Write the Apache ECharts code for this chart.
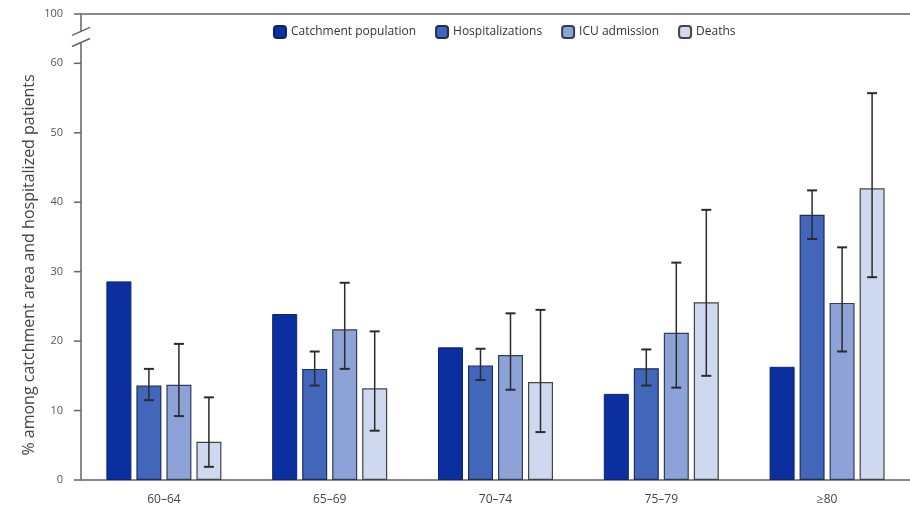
<!DOCTYPE html>
<html>
<head>
<meta charset="utf-8">
<script src="https://cdn.jsdelivr.net/npm/echarts@6/dist/echarts.min.js"></script>
<style>
  html, body { margin: 0; padding: 0; background: #fff; }
  #chart { width: 910px; height: 509px; }
</style>
</head>
<body>
<div id="chart"></div>
<script>
// age groups
const categories = ['60–64', '65–69', '70–74', '75–79', '≥80']

// % values
const catchment = [28.6, 23.9, 19.1, 12.4, 16.3]
const hospitalizations = [13.6, 16.0, 16.5, 16.1, 38.2]
const hospLow = [11.5, 13.6, 14.4, 13.6, 34.7]
const hospHigh = [16.0, 18.5, 18.9, 18.8, 41.7]
const icu = [13.7, 21.7, 18.0, 21.2, 25.5]
const icuLow = [9.2, 16.0, 13.0, 13.3, 18.5]
const icuHigh = [19.6, 28.4, 24.0, 31.3, 33.5]
const deaths = [5.5, 13.2, 14.1, 25.6, 42.0]
const deathsLow = [1.9, 7.1, 6.9, 15.0, 29.2]
const deathsHigh = [11.9, 21.4, 24.5, 38.9, 55.7]

const yTicks = [0, 10, 20, 30, 40, 50, 60, 100]

const BAR_W = 25
const BAR_GAP = 5
const FONT = '"Open Sans", "Noto Sans", sans-serif'

// x offset of bar i (0..3) from the category centre
function barOffset(i) {
  const total = 4 * BAR_W + 3 * BAR_GAP
  return -total / 2 + BAR_W / 2 + i * (BAR_W + BAR_GAP)
}

function errorSeries(idx, low, high) {
  return {
    type: 'custom',
    xAxisIndex: 0,
    yAxisIndex: 0,
    z: 5,
    silent: true,
    data: categories.map((c, i) => [i, low[i], high[i]]),
    renderItem: function(params, api) {
      const lo = api.coord([api.value(0), api.value(1)])
      const hi = api.coord([api.value(0), api.value(2)])
      const x = lo[0] + barOffset(idx)
      const half = 5
      const style = { stroke: '#2b2b2b', lineWidth: 1.5 }
      return {
        type: 'group',
        children: [
          { type: 'line', shape: { x1: x, y1: lo[1], x2: x, y2: hi[1] }, style },
          { type: 'line', shape: { x1: x - half, y1: hi[1], x2: x + half, y2: hi[1] }, style: { stroke: '#2b2b2b', lineWidth: 2 } },
          { type: 'line', shape: { x1: x - half, y1: lo[1], x2: x + half, y2: lo[1] }, style: { stroke: '#2b2b2b', lineWidth: 2 } }
        ]
      }
    }
  }
}

const chart = echarts.init(document.getElementById('chart'))

chart.setOption({
  animation: false,
  textStyle: { fontFamily: FONT },
  legend: {
    left: 268,
    top: 20,
    itemWidth: 12,
    itemHeight: 12,
    itemGap: 19,
    z: 200,
    textStyle: { fontSize: 12, color: '#333', fontFamily: FONT },
    data: ['Catchment population', 'Hospitalizations', 'ICU admission', 'Deaths']
  },
  grid: {
    left: 81,
    right: -8,
    top: 14,
    bottom: 29
  },
  xAxis: [{
    type: 'category',
    data: categories,
    axisLine: { lineStyle: { color: '#8a8a8a', width: 2 } },
    axisTick: { show: false },
    axisLabel: { color: '#444', fontSize: 12, margin: 14, fontFamily: FONT }
  }, {
    type: 'category',
    data: categories,
    position: 'top',
    axisLine: { lineStyle: { color: '#8a8a8a', width: 2 } },
    axisTick: { show: false },
    axisLabel: { show: false }
  }],
  yAxis: {
    type: 'value',
    min: 0,
    max: 100,
    interval: 10,
    breaks: [{ start: 63, end: 97.5, gap: 1.6 }],
    breakArea: { show: false },
    axisLine: { show: true, lineStyle: { color: '#8a8a8a', width: 2 } },
    axisTick: { show: false },
    axisLabel: {
      color: '#555',
      fontSize: 11,
      margin: 18,
      fontFamily: FONT,
      customValues: yTicks,
      formatter: v => (yTicks.indexOf(v) >= 0 ? String(v) : '')
    },
    splitLine: { show: false }
  },
  series: [{
    name: 'Catchment population',
    type: 'bar',
    barWidth: BAR_W,
    barGap: (BAR_GAP / BAR_W * 100) + '%',
    itemStyle: { color: '#0b2f9f', borderColor: '#0a2470', borderWidth: 1 },
    data: catchment
  }, {
    name: 'Hospitalizations',
    type: 'bar',
    barWidth: BAR_W,
    itemStyle: { color: '#4266ba', borderColor: '#1e2d5c', borderWidth: 1.2 },
    data: hospitalizations
  }, {
    name: 'ICU admission',
    type: 'bar',
    barWidth: BAR_W,
    itemStyle: { color: '#8da2d6', borderColor: '#333c58', borderWidth: 1.2 },
    data: icu
  }, {
    name: 'Deaths',
    type: 'bar',
    barWidth: BAR_W,
    itemStyle: { color: '#ced8ee', borderColor: '#444', borderWidth: 1.2 },
    data: deaths
  },
  errorSeries(1, hospLow, hospHigh),
  errorSeries(2, icuLow, icuHigh),
  errorSeries(3, deathsLow, deathsHigh)]
})

// axis title, ticks and break marks
const step = chart.convertToPixel({ xAxisIndex: 0 }, 1) - chart.convertToPixel({ xAxisIndex: 0 }, 0)
const axisX = chart.convertToPixel({ xAxisIndex: 0 }, 0) - step / 2
const yBreakLo = chart.convertToPixel({ yAxisIndex: 0 }, 63)
const yBreakHi = chart.convertToPixel({ yAxisIndex: 0 }, 97.5)
const yTop = chart.convertToPixel({ yAxisIndex: 0 }, 100)
const yBottom = chart.convertToPixel({ yAxisIndex: 0 }, 0)

function slash(y) {
  return {
    type: 'line',
    z: 101,
    shape: { x1: axisX - 9, y1: y + 4, x2: axisX + 9, y2: y - 4 },
    style: { stroke: '#666', lineWidth: 1.6 }
  }
}

const tickMarks = yTicks.map(v => {
  const y = chart.convertToPixel({ yAxisIndex: 0 }, v)
  return {
    type: 'rect',
    z: 99,
    shape: { x: axisX - 7, y: y - 0.75, width: 7, height: 1.5 },
    style: { fill: '#666' }
  }
})

chart.setOption({
  graphic: {
    elements: tickMarks.concat([
      {
        type: 'rect',
        z: 100,
        shape: { x: axisX - 3, y: yBreakHi, width: 6, height: yBreakLo - yBreakHi },
        style: { fill: '#fff' }
      },
      slash(yBreakLo),
      slash(yBreakHi),
      {
        type: 'text',
        x: 29,
        y: (yTop + yBottom) / 2 + 18,
        rotation: Math.PI / 2,
        style: {
          text: '% among catchment area and hospitalized patients',
          font: '16px ' + FONT,
          fill: '#444',
          align: 'center',
          verticalAlign: 'middle'
        }
      }
    ])
  }
})
</script>
</body>
</html>
